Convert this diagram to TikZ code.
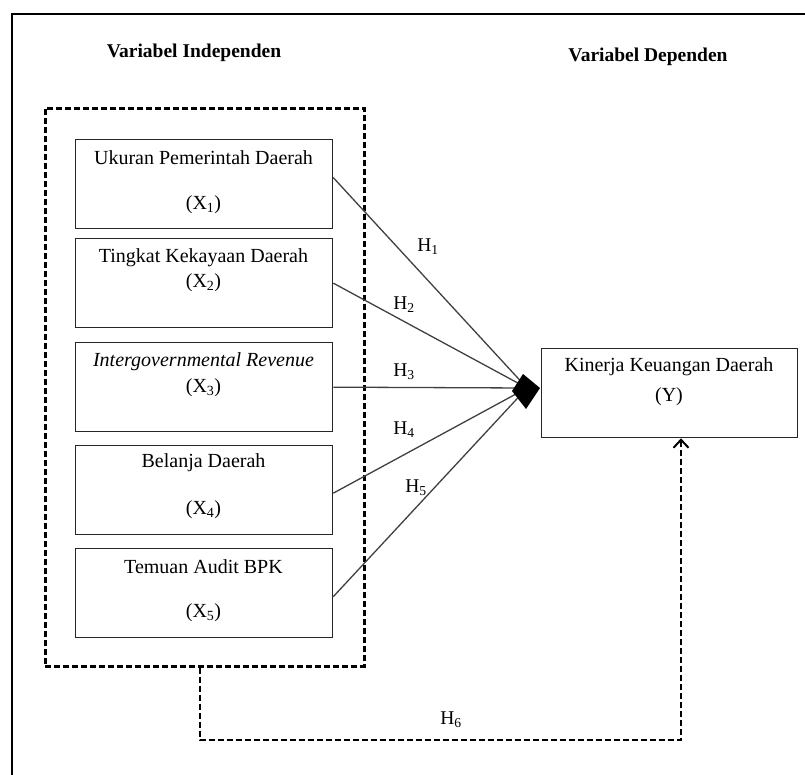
\documentclass[tikz,border=0pt]{standalone}
\usepackage{fontspec}
\setmainfont{Liberation Serif}
\usetikzlibrary{arrows.meta}
\begin{document}
\begin{tikzpicture}[x=1pt,y=-1pt,
  varbox/.style={draw=black!85, line width=1.3pt, minimum width=257pt, minimum height=89pt, anchor=north west, inner sep=0pt},
  lbl/.style={inner sep=0pt, font=\fontsize{20}{23}\selectfont},
  head/.style={inner sep=0pt, font=\fontsize{19.5}{23}\selectfont\bfseries},
  hlbl/.style={inner sep=0pt, font=\fontsize{19.5}{23}\selectfont},
  hline/.style={draw=black!75, line width=1.3pt},
  dline/.style={draw=black, line width=2.6pt, dash pattern=on 6pt off 3pt}
]
\useasboundingbox (0,0) rectangle (805,774);
\begin{scope}
\clip (0,0) rectangle (805,774);
\draw[line width=2.6pt] (12,14) rectangle (900,900);
\end{scope}

% headings
\node[head] (hind) at (194,53) {Variabel Independen};
\node[head] (hdep) at (648,57) {Variabel Dependen};

% group box
\node[dline, minimum width=319pt, minimum height=558pt, anchor=north west, inner sep=0pt] (grp) at (44,107) {};

% variable boxes
\node[varbox] (b1) at (75,139) {};
\node[varbox] (b2) at (75,238) {};
\node[varbox] (b3) at (75,342) {};
\node[varbox] (b4) at (75,445) {};
\node[varbox] (b5) at (75,548) {};

\node[lbl] (t1) at (203.5,158) {Ukuran Pemerintah Daerah};
\node[lbl] (s1) at (203.5,205) {(X\textsubscript{1})};
\node[lbl] (t2) at (203.5,258) {Tingkat Kekayaan Daerah};
\node[lbl] (s2) at (203.5,283) {(X\textsubscript{2})};
\node[lbl] (t3) at (203.5,362) {\itshape Intergovernmental Revenue};
\node[lbl] (s3) at (203.5,388) {(X\textsubscript{3})};
\node[lbl] (t4) at (203.5,463) {Belanja Daerah};
\node[lbl] (s4) at (203.5,510) {(X\textsubscript{4})};
\node[lbl] (t5) at (203.5,567) {Temuan Audit BPK};
\node[lbl] (s5) at (203.5,613) {(X\textsubscript{5})};

% dependent box
\node[draw=black!85, line width=1.3pt, minimum width=256pt, minimum height=89pt, anchor=north west, inner sep=0pt] (ybox) at (541,348) {};
\node[lbl] (ty) at (669,367) {Kinerja Keuangan Daerah};
\node[lbl] (sy) at (669,397) {(Y)};

% hub
\coordinate (hub) at (527,388);
\draw[hline] ([yshift=6.5pt]b1.east) -- (hub);
\draw[hline] (b2.east) -- (hub);
\draw[hline] (b3.east) -- (hub);
\draw[hline] ([yshift=-3pt]b4.east) -- (hub);
\draw[hline] ([yshift=-3.5pt]b5.east) -- (hub);
\fill[black] (512,391) -- (523,374) -- (540,388) -- (526,409) -- cycle;

\node[hlbl] (h1) at (428,247) {H\textsubscript{1}};
\node[hlbl] (h2) at (404,305) {H\textsubscript{2}};
\node[hlbl] (h3) at (404,372) {H\textsubscript{3}};
\node[hlbl] (h4) at (404,430) {H\textsubscript{4}};
\node[hlbl] (h5) at (416,488) {H\textsubscript{5}};

% H6 dashed connector
\coordinate (p1) at (200,740);
\coordinate (p2) at (681,740);
\draw[dline, -{Straight Barb[length=8pt,width=15pt,line width=2pt]}] (grp.south -| p1) -- (p1) -- (p2) -- (ybox.south -| p2);
\node[hlbl] (h6) at (451,720) {H\textsubscript{6}};
\end{tikzpicture}
\end{document}
